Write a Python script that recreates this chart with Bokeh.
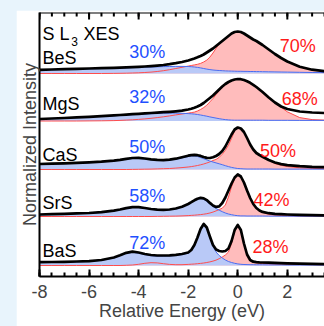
import numpy as np
from bokeh.plotting import figure
from bokeh.models import FixedTicker, Range1d, Span
from bokeh.layouts import column
from bokeh.embed import file_html
from bokeh.resources import INLINE
from bokeh.core.properties import value

# ---------------- data ----------------
X = [-8, -7.5, -7, -6.5, -6, -5.5, -5, -4.75, -4.5, -4.25, -4, -3.75, -3.5, -3.25, -3,
     -2.75, -2.5, -2.25, -2, -1.875, -1.75, -1.625, -1.5, -1.375, -1.25, -1.125, -1,
     -0.875, -0.75, -0.625, -0.5, -0.375, -0.25, -0.125, 0, 0.125, 0.25, 0.375, 0.5,
     0.625, 0.75, 0.875, 1, 1.25, 1.5, 1.75, 2, 2.5, 3, 3.5]

NAMES = ["BeS", "MgS", "CaS", "SrS", "BaS"]
BLUE_PCT = ["30%", "32%", "50%", "58%", "72%"]
RED_PCT = ["70%", "68%", "50%", "42%", "28%"]
X_TICKS = [-8, -6, -4, -2, 0, 2]

BeS_total = [3.7, 4.0, 4.3, 4.6, 5.0, 5.3, 5.7, 5.9, 6.1, 6.3, 6.6, 7.0, 7.4, 7.9, 8.5, 9.3, 10.3,
             11.5, 13.0, 14.0, 15.0, 16.2, 17.5, 19.0, 21.0, 23.0, 25.0, 27.5, 30.0, 32.5, 35.0,
             37.5, 40.0, 41.5, 42.0, 41.5, 40.0, 38.0, 36.0, 34.0, 32.5, 30.5, 28.5, 24.0, 19.5,
             15.5, 12.0, 6.8, 3.8, 2.3]
BeS_blue = [3.5, 3.8, 4.1, 4.4, 4.7, 5.0, 5.3, 5.5, 5.7, 5.9, 6.1, 6.3, 6.5, 6.7, 6.9, 7.0, 7.1,
            7.1, 7.0, 6.8, 6.5, 6.1, 5.6, 5.0, 4.4, 3.9, 3.5, 3.2, 3.0, 2.8, 2.6, 2.5, 2.4, 2.3,
            2.2, 2.2, 2.1, 2.1, 2.0, 2.0, 1.9, 1.9, 1.8, 1.7, 1.6, 1.5, 1.4, 1.2, 1.0, 0.9]
BeS_red = [0, 0, 0, 0, 0, 0, 0.1, 0.2, 0.3, 0.5, 0.7, 1.0, 1.4, 2.0, 2.8, 3.8, 5.0, 6.2, 7.4,
           8.0, 8.6, 9.2, 10.1, 11.5, 13.4, 16.4, 20.5, 25.2, 29.5, 32.4, 35.0, 37.5, 40.0, 41.5,
           42.0, 41.5, 40.0, 38.0, 36.0, 34.0, 32.5, 30.5, 28.5, 24.0, 19.5, 15.5, 12.0, 6.8,
           3.8, 2.3]

MgS_total = [2.0, 2.5, 3.0, 3.6, 4.2, 4.9, 5.6, 6.0, 6.4, 6.8, 7.2, 7.6, 8.0, 8.4, 8.8, 9.2, 9.7,
             10.3, 11.5, 12.3, 13.3, 14.5, 16.0, 18.0, 20.5, 23.0, 25.5, 28.5, 31.5, 34.5, 37.0,
             39.0, 40.5, 41.5, 42.0, 41.8, 41.0, 39.8, 38.2, 36.2, 34.0, 31.5, 29.0, 23.5, 18.5,
             14.5, 12.0, 9.5, 8.5, 8.0]
MgS_blue = [2.0, 2.5, 3.0, 3.5, 4.1, 4.7, 5.3, 5.6, 6.0, 6.3, 6.7, 7.0, 7.3, 7.6, 7.8, 7.9, 7.9,
            7.7, 7.4, 7.2, 6.9, 6.5, 6.0, 5.4, 4.8, 4.1, 3.5, 2.9, 2.3, 1.8, 1.4, 1.1, 0.9, 0.8,
            0.8, 0.8, 0.8, 0.8, 0.8, 0.8, 0.8, 0.8, 0.8, 0.7, 0.7, 0.7, 0.7, 0.6, 0.6, 0.6]
MgS_red = [0, 0, 0, 0, 0.1, 0.2, 0.4, 0.6, 0.9, 1.2, 1.6, 2.1, 2.7, 3.4, 4.2, 5.1, 6.1, 7.0, 7.9,
           8.4, 8.9, 10.0, 11.5, 13.4, 15.8, 19.1, 22.5, 26.4, 30.3, 34.3, 37.0, 39.0, 40.5,
           41.5, 42.0, 41.8, 41.0, 39.8, 38.2, 36.2, 34.0, 31.5, 29.0, 23.5, 18.5, 13.7, 9.2,
           3.4, 1.4, 0.9]

CaS_total = [5.5, 5.8, 6.2, 6.6, 7.1, 7.8, 8.8, 9.6, 10.6, 11.5, 11.6, 11.0, 10.2, 9.6, 9.4, 9.8,
             10.8, 12.3, 13.8, 14.4, 14.6, 14.3, 13.6, 12.5, 11.6, 11.5, 12.2, 13.5, 15.5, 18.5,
             23.0, 29.0, 35.0, 40.0, 42.0, 41.0, 37.5, 31.5, 25.0, 20.0, 16.5, 14.5, 12.8, 9.5,
             7.0, 5.4, 4.4, 3.3, 2.7, 2.4]
CaS_blue = [5.3, 5.6, 6.0, 6.4, 6.9, 7.6, 8.6, 9.4, 10.3, 11.1, 11.1, 10.5, 9.8, 9.2, 9.0, 9.4,
            10.3, 11.7, 13.0, 13.5, 13.5, 13.0, 12.0, 10.8, 9.6, 8.5, 7.5, 6.6, 5.7, 4.8, 3.8,
            2.9, 2.1, 1.5, 1.0, 0.8, 0.6, 0.5, 0.5, 0.5, 0.5, 0.5, 0.5, 0.5, 0.4, 0.4, 0.4, 0.4,
            0.4, 0.4]
CaS_red = [0, 0, 0, 0, 0, 0, 0, 0, 0, 0.1, 0.2, 0.3, 0.4, 0.6, 0.8, 1.0, 1.4, 1.9, 2.5, 2.9, 3.4,
           4.0, 4.7, 5.5, 6.5, 7.6, 9.0, 10.1, 12.2, 15.3, 19.3, 24.4, 31.1, 39.0, 42.0, 41.0,
           37.5, 31.5, 25.0, 20.0, 16.5, 14.5, 12.8, 9.5, 5.9, 4.2, 3.0, 1.7, 1.1, 0.8]

SrS_total = [2.0, 2.3, 2.7, 3.1, 3.5, 4.3, 5.8, 7.0, 8.4, 9.3, 9.3, 8.5, 7.5, 6.8, 6.6, 7.0, 8.0,
             9.8, 12.5, 14.3, 16.2, 17.8, 18.6, 18.2, 16.4, 13.6, 11.0, 9.6, 10.2, 13.5, 19.0,
             26.0, 33.0, 39.0, 42.0, 40.0, 34.0, 26.0, 18.5, 12.5, 8.5, 6.0, 4.6, 3.3, 2.6, 2.3,
             2.0, 1.6, 1.3, 1.1]
SrS_blue = [1.8, 2.1, 2.5, 2.9, 3.3, 4.1, 5.6, 6.8, 8.2, 9.1, 9.1, 8.3, 7.3, 6.6, 6.4, 6.8, 7.8,
            9.6, 12.2, 14.0, 15.9, 17.4, 18.0, 17.3, 15.0, 12.5, 10.0, 8.0, 6.3, 4.8, 3.5, 2.5,
            1.8, 1.2, 0.8, 0.6, 0.6, 0.5, 0.5, 0.5, 0.5, 0.5, 0.5, 0.4, 0.4, 0.4, 0.4, 0.3, 0.3,
            0.3]
SrS_red = [0, 0, 0, 0, 0, 0, 0, 0, 0, 0, 0, 0, 0, 0.1, 0.2, 0.3, 0.4, 0.6, 0.9, 1.1, 1.3, 1.6,
           1.9, 2.3, 2.8, 3.5, 4.4, 5.6, 7.0, 8.3, 11.5, 19.5, 29.8, 37.7, 41.8, 39.9, 34.0, 25.9,
           18.4, 12.4, 8.4, 5.7, 4.1, 2.2, 1.4, 1.0, 0.8, 0.5, 0.4, 0.4]

BaS_total = [3.3, 3.5, 3.7, 4.0, 4.4, 5.5, 8.0, 10.2, 12.7, 13.8, 13.0, 11.5, 10.5, 10.0, 10.0,
             10.2, 10.6, 11.5, 13.0, 15.5, 20.5, 28.0, 36.5, 41.5, 38.0, 29.0, 20.5, 16.0, 14.5,
             14.0, 14.5, 17.0, 24.5, 35.5, 40.5, 35.5, 22.0, 11.0, 5.5, 3.8, 3.3, 3.1, 3.0, 2.8,
             2.6, 2.4, 2.2, 1.9, 1.6, 1.3]
BaS_blue = [3.0, 3.2, 3.4, 3.7, 4.1, 5.2, 7.6, 9.8, 12.2, 13.2, 12.4, 10.9, 9.8, 9.3, 9.3, 9.6,
            10.0, 10.9, 12.4, 15.0, 20.0, 27.5, 36.0, 41.0, 37.5, 28.5, 19.5, 13.5, 10.0, 7.5,
            5.5, 4.0, 3.0, 2.2, 1.6, 1.2, 1.0, 0.9, 0.8, 0.8, 0.7, 0.7, 0.7, 0.6, 0.6, 0.6, 0.5,
            0.5, 0.5, 0.5]
BaS_red = [0, 0, 0, 0, 0, 0, 0, 0, 0.2, 0.5, 1.2, 2.2, 2.8, 2.6, 1.8, 1.1, 0.8, 0.8, 1.1, 1.3,
           1.5, 1.8, 2.1, 2.5, 3.0, 3.6, 4.4, 5.4, 6.8, 8.5, 10.5, 13.5, 22.0, 34.2, 40.5, 35.5,
           22.0, 11.0, 5.5, 3.6, 2.7, 2.3, 2.1, 1.7, 1.5, 1.4, 1.2, 1.0, 0.9, 0.8]

TOTALS = [BeS_total, MgS_total, CaS_total, SrS_total, BaS_total]
BLUES = [BeS_blue, MgS_blue, CaS_blue, SrS_blue, BaS_blue]
REDS = [BeS_red, MgS_red, CaS_red, SrS_red, BaS_red]

# ---------------- layout constants ----------------
OFFSETS = [192, 144.5, 96, 49, 0]
NAME_DY = [15.8, 17.5, 15, 13.5, 15]
BLUE_DY = [22, 24, 22.5, 21, 22.5]
RED_X = [2.42, 2.5, 1.62, 1.36, 1.32]
RED_DY = [27.5, 22, 19, 17, 19]

FONT_NAME = "Liberation Sans"
FONT = value(FONT_NAME)
BLUE_FILL = "#b9c9f7"
RED_FILL = "#ffbcbc"
BLUE_LINE = "#4a6cf0"
RED_LINE = "#ff4d4d"
BLUE_TXT = "#1f50ff"
RED_TXT = "#ff1a1a"

Y0, Y1 = -11, 253
p = figure(width=308, height=316, x_range=Range1d(-8, 3.5), y_range=Range1d(Y0, Y1),
           output_backend="svg", toolbar_location=None,
           min_border_left=21, min_border_right=0, min_border_top=2, min_border_bottom=50,
           margin=(10, 0, 0, 16))
p.background_fill_color = "white"
p.border_fill_color = "white"
p.outline_line_color = None
p.grid.visible = False

xa = np.array(X, dtype=float)
for tot, blu, red, off in zip(TOTALS, BLUES, REDS, OFFSETS):
    b = np.array(blu) + off
    r = np.array(red) + off
    t = np.array(tot) + off
    base = np.full_like(xa, off)
    p.varea(x=xa, y1=base, y2=r, fill_color=RED_FILL)
    p.varea(x=xa, y1=base, y2=b, fill_color=BLUE_FILL)
    p.line(xa, r, line_color=RED_LINE, line_width=1)
    p.line(xa, b, line_color=BLUE_LINE, line_width=1)
    p.line(xa, t, line_color="black", line_width=2.7, line_join="round")

# texts
p.text(x=[-7.88] * 5, y=[o + d for o, d in zip(OFFSETS, NAME_DY)], text=NAMES,
       text_font=FONT, text_font_size="18px", text_align="left", text_baseline="middle",
       text_color="black")
p.text(x=[-3.65] * 5, y=[o + d for o, d in zip(OFFSETS, BLUE_DY)], text=BLUE_PCT,
       text_font=FONT, text_font_size="18px", text_align="center", text_baseline="middle",
       text_color=BLUE_TXT)
p.text(x=RED_X, y=[o + d for o, d in zip(OFFSETS, RED_DY)], text=RED_PCT,
       text_font=FONT, text_font_size="18px", text_align="center", text_baseline="middle",
       text_color=RED_TXT)
p.text(x=[-7.88, -6.22], y=[231.7, 231.7], text=["S L", "XES"], text_font=FONT,
       text_font_size="18px", text_align="left", text_baseline="middle", text_color="black")
p.text(x=[-6.72], y=[224.5], text=["3"], text_font=FONT, text_font_size="12px",
       text_align="left", text_baseline="middle", text_color="black")

# bottom axis
minor = list(np.arange(-8, 3.51, 0.5))
xax = p.xaxis[0]
xax.ticker = FixedTicker(ticks=X_TICKS, minor_ticks=minor)
xax.major_label_overrides = {t: str(t) for t in X_TICKS}
xax.major_label_text_font = FONT_NAME
xax.major_label_text_font_size = "18px"
xax.major_label_standoff = 8
xax.axis_line_width = 2
xax.major_tick_in = 7
xax.major_tick_out = 0
xax.minor_tick_in = 4
xax.minor_tick_out = 0
xax.major_tick_line_width = 2
xax.minor_tick_line_width = 2
xax.axis_label = "Relative Energy (eV)"
xax.axis_label_text_font = FONT_NAME
xax.axis_label_text_font_size = "18px"
xax.axis_label_text_font_style = "normal"
xax.axis_label_standoff = 0

# top line with inward ticks
p.add_layout(Span(location=Y1, dimension="width", line_color="black", line_width=2))
p.segment(x0=X_TICKS, y0=[Y1] * len(X_TICKS), x1=X_TICKS, y1=[Y1 - 7] * len(X_TICKS),
          line_color="black", line_width=2)
p.segment(x0=minor, y0=[Y1] * len(minor), x1=minor, y1=[Y1 - 4] * len(minor),
          line_color="black", line_width=2)

# left axis: line and title only
ya = p.yaxis[0]
ya.ticker = FixedTicker(ticks=[])
ya.major_tick_line_color = None
ya.minor_tick_line_color = None
ya.axis_line_width = 2
ya.axis_label = "Normalized Intensity"
ya.axis_label_text_font = FONT_NAME
ya.axis_label_text_font_size = "18px"
ya.axis_label_text_font_style = "normal"
ya.axis_label_standoff = 0

root = column(p, styles={"background-color": "#e8f4fc"})
open("out.html", "w").write(file_html(root, INLINE))
